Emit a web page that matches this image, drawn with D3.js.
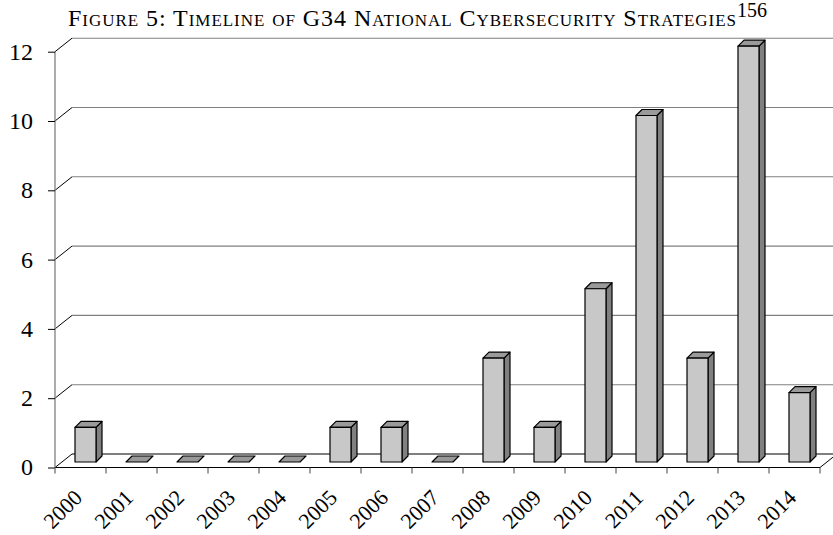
<!DOCTYPE html>
<html>
<head>
<meta charset="utf-8">
<script src="https://cdn.jsdelivr.net/npm/d3@7"></script>
<style>
  html, body { margin: 0; padding: 0; background: #fff; }
  svg { display: block; }
  text { font-family: "Liberation Serif", "Times New Roman", serif; fill: #000; }
</style>
</head>
<body>
<svg id="chart" width="833" height="535"></svg>
<script>
// Number of national cybersecurity strategies adopted per year
const years = ["2000","2001","2002","2003","2004","2005","2006","2007","2008","2009","2010","2011","2012","2013","2014"];
const strategies = [1, 0, 0, 0, 0, 1, 1, 0, 3, 1, 5, 10, 3, 12, 2];
const yTicks = [0, 2, 4, 6, 8, 10, 12];
const titleText = "Figure 5: Timeline of G34 National Cybersecurity Strategies";
const footnote = "156";

const svg = d3.select("#chart");

// Plot geometry: front plane of the pseudo-3D frame plus the depth offset of the back wall
const left = 55, right = 820;
const wall = { dx: 17, dy: -13.5 };      // back wall offset
const barShift = { dx: 0, dy: -5.5 };    // bars stand partway into the floor
const barDepth = { dx: 6, dy: -6 };      // extrusion of each bar
const barInset = 20, barWidth = 21;

const x = d3.scaleBand().domain(years).range([left, right]).paddingInner(0).paddingOuter(0);
const y = d3.scaleLinear().domain([0, 12]).range([467.5, 51.7]);

// Back-wall gridlines with their diagonal connectors to the front axis
const grid = svg.append("g");
yTicks.forEach(v => {
  const yf = y(v), yb = y(v) + wall.dy;
  grid.append("line")
    .attr("x1", left + wall.dx).attr("x2", right + wall.dx)
    .attr("y1", yb).attr("y2", yb)
    .attr("stroke", v === 0 ? "#000" : "#808080").attr("stroke-width", 1.1);
  grid.append("line")
    .attr("x1", left).attr("y1", yf)
    .attr("x2", left + wall.dx).attr("y2", yb)
    .attr("stroke", "#000").attr("stroke-width", 1);
});

// Floor: front edge and right-hand diagonal
grid.append("line")
  .attr("x1", left).attr("x2", right)
  .attr("y1", y(0)).attr("y2", y(0))
  .attr("stroke", "#000").attr("stroke-width", 1.1);
grid.append("line")
  .attr("x1", right).attr("y1", y(0))
  .attr("x2", right + wall.dx).attr("y2", y(0) + wall.dy)
  .attr("stroke", "#000").attr("stroke-width", 1);

// Vertical value axis on the front plane
grid.append("line")
  .attr("x1", left).attr("x2", left)
  .attr("y1", y(12)).attr("y2", y(0))
  .attr("stroke", "#808080").attr("stroke-width", 1.3);

// Y axis ticks and labels
const yAxis = svg.append("g")
  .attr("transform", `translate(${left},0)`)
  .call(d3.axisLeft(y).tickValues(yTicks).tickSize(7).tickPadding(15).tickFormat(d3.format("d")));
yAxis.select(".domain").remove();
yAxis.selectAll(".tick line").attr("stroke", "#000").attr("stroke-width", 1);
yAxis.selectAll(".tick text")
  .style("font-family", "'Liberation Serif', 'Times New Roman', serif")
  .style("font-size", "24px").attr("fill", "#000").attr("dy", "0.31em");

// X axis tick marks at category boundaries
const bounds = years.map(yr => x(yr)).concat([right]);
svg.append("g").selectAll("line").data(bounds).join("line")
  .attr("x1", d => d).attr("x2", d => d)
  .attr("y1", y(0)).attr("y2", y(0) + 6)
  .attr("stroke", "#444").attr("stroke-width", 1);

// Category labels, rotated
svg.append("g").selectAll("text").data(years).join("text")
  .attr("transform", d => `translate(${x(d) + x.bandwidth() / 2 + 3},499) rotate(-45)`)
  .attr("text-anchor", "end")
  .style("font-size", "22px")
  .text(d => d);

// Bars as extruded boxes
const bars = svg.append("g");
years.forEach((yr, i) => {
  const v = strategies[i];
  const x0 = x(yr) + barInset + barShift.dx;
  const x1 = x0 + barWidth;
  const yb = y(0) + barShift.dy;
  const yt = y(v) + barShift.dy;
  const dx = barDepth.dx, dy = barDepth.dy;
  const g = bars.append("g").attr("stroke", "#000").attr("stroke-width", 1.2).attr("stroke-linejoin", "round");
  if (v === 0) {
    g.append("path")
      .attr("d", `M${x0},${yb}L${x1},${yb}L${x1 + dx},${yb + dy}L${x0 + dx},${yb + dy}Z`)
      .attr("fill", "#999999");
    return;
  }
  // side face
  g.append("path")
    .attr("d", `M${x1},${yb}L${x1 + dx},${yb + dy}L${x1 + dx},${yt + dy}L${x1},${yt}Z`)
    .attr("fill", "#808080");
  // top face
  g.append("path")
    .attr("d", `M${x0},${yt}L${x1},${yt}L${x1 + dx},${yt + dy}L${x0 + dx},${yt + dy}Z`)
    .attr("fill", "#9a9a9a");
  // front face
  g.append("rect")
    .attr("x", x0).attr("y", yt)
    .attr("width", barWidth).attr("height", yb - yt)
    .attr("fill", "#c8c8c8");
});

// Title in small capitals with a footnote marker
const title = svg.append("text")
  .attr("x", 68).attr("y", 26)
  .attr("text-anchor", "start")
  .style("font-size", "24px")
  .style("font-variant", "small-caps");
title.append("tspan")
  .attr("textLength", 668)
  .attr("lengthAdjust", "spacing")
  .text(titleText);
title.append("tspan")
  .attr("x", 737)
  .attr("dy", -9)
  .style("font-size", "20px")
  .style("font-variant", "normal")
  .text(footnote);
</script>
</body>
</html>
